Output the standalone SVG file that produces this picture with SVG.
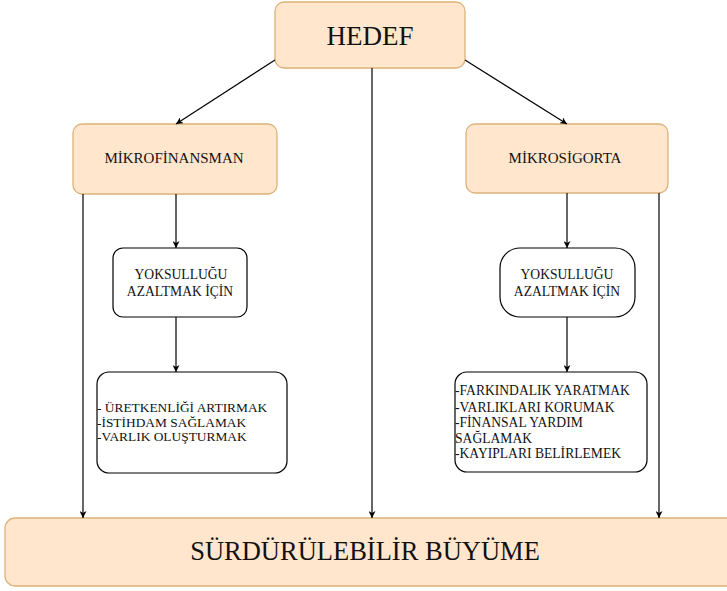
<svg xmlns="http://www.w3.org/2000/svg" width="727" height="591" viewBox="0 0 727 591">
<defs>
<marker id="arr" viewBox="0 0 10 10" refX="10" refY="5" markerWidth="7" markerHeight="7" orient="auto" markerUnits="userSpaceOnUse">
<path d="M0,0 L10,5 L0,10 L3,5 z" fill="#000"/>
</marker>
<style>
.peach{fill:#ffe6cc;stroke:#dcb27a;stroke-width:1.3}
.white{fill:#fff;stroke:#000;stroke-width:1.2}
text{font-family:"Liberation Serif","Times New Roman",serif;fill:#111}
.c{text-anchor:middle}
.conn line{stroke:#000;stroke-width:1.2;marker-end:url(#arr)}
</style>
</defs>
<rect width="727" height="591" fill="#fff"/>
<g id="hedef">
<rect class="peach" x="275" y="2" width="190" height="66" rx="9"/>
<text class="c" x="370" y="45" font-size="27">HEDEF</text>
</g>
<g id="mikrofinansman">
<rect class="peach" x="73" y="124" width="204" height="70" rx="9"/>
<text class="c" x="174" y="163" font-size="15">MİKROFİNANSMAN</text>
</g>
<g id="mikrosigorta">
<rect class="peach" x="466" y="124" width="202" height="69" rx="9"/>
<text class="c" x="565" y="163" font-size="15">MİKROSİGORTA</text>
</g>
<g id="yoksul-left">
<rect class="white" x="113" y="248" width="134" height="69" rx="10"/>
<text class="c" x="181" y="279" font-size="13.6">YOKSULLUĞU</text>
<text class="c" x="180" y="296" font-size="13.6">AZALTMAK İÇİN</text>
</g>
<g id="yoksul-right">
<rect class="white" x="500" y="248" width="135" height="69" rx="20"/>
<text class="c" x="567" y="279" font-size="13.6">YOKSULLUĞU</text>
<text class="c" x="567" y="296" font-size="13.6">AZALTMAK İÇİN</text>
</g>
<g id="list-left">
<rect class="white" x="97" y="372" width="190" height="101" rx="12"/>
<text x="97" y="412" font-size="13.4">- ÜRETKENLİĞİ ARTIRMAK</text>
<text x="97" y="427" font-size="13.4">-İSTİHDAM SAĞLAMAK</text>
<text x="97" y="441" font-size="13.4">-VARLIK OLUŞTURMAK</text>
</g>
<g id="list-right">
<rect class="white" x="455" y="372" width="192" height="100" rx="12"/>
<text x="455" y="395" font-size="13.6">-FARKINDALIK YARATMAK</text>
<text x="455" y="412" font-size="13.6">-VARLIKLARI KORUMAK</text>
<text x="455" y="427" font-size="13.6">-FİNANSAL YARDIM</text>
<text x="455" y="443" font-size="13.6">SAĞLAMAK</text>
<text x="455" y="458" font-size="13.6">-KAYIPLARI BELİRLEMEK</text>
</g>
<g id="surdurulebilir">
<rect class="peach" x="5" y="518" width="740" height="68" rx="10"/>
<text class="c" x="365" y="560" font-size="26.5">SÜRDÜRÜLEBİLİR BÜYÜME</text>
</g>
<g class="conn" id="connectors">
<line x1="275" y1="60" x2="176" y2="124"/>
<line x1="465" y1="60" x2="567" y2="124"/>
<line x1="372" y1="68" x2="372" y2="518"/>
<line x1="176" y1="194" x2="176" y2="248"/>
<line x1="176" y1="317" x2="176" y2="372"/>
<line x1="83" y1="194" x2="83" y2="518"/>
<line x1="567" y1="193" x2="567" y2="248"/>
<line x1="567" y1="317" x2="567" y2="372"/>
<line x1="659" y1="193" x2="659" y2="518"/>
</g>
</svg>
